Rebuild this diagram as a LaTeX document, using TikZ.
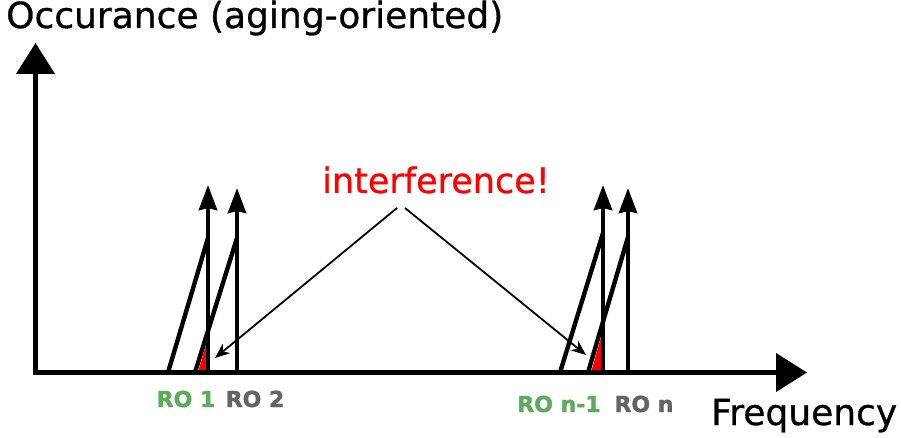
\documentclass[tikz,border=0pt]{standalone}
\usepackage{fontspec}
\setmainfont{DejaVu Sans}[FakeBold=0.8, BoldFeatures={FakeBold=1.6}]
\usetikzlibrary{arrows.meta}

\definecolor{rogreen}{RGB}{92,172,92}
\definecolor{rogray}{RGB}{100,100,100}

\begin{document}
\begin{tikzpicture}[x=1pt, y=-1pt]
    \tikzstyle{axis} = [line width=4.2pt, -{Triangle[width=38pt,length=31pt]}]
    \tikzstyle{peak} = [line width=4.4pt, -{Stealth[width=18pt,length=25pt,inset=2pt]}]
    \tikzstyle{slope} = [line width=4.4pt]
    \tikzstyle{pointer} = [line width=1.8pt, -{Stealth[width=12pt,length=15pt]}]
    \tikzstyle{big} = [font=\fontsize{36}{40}\selectfont, inner sep=0pt]
    \tikzstyle{rolabel} = [font=\fontsize{22}{26}\selectfont\bfseries, inner sep=0pt, anchor=base]

    \useasboundingbox (0,0) rectangle (901,438);

    \coordinate (origin) at (35.5,372.5);
    \coordinate (ytip)   at (35.5,43);
    \coordinate (xtip)   at (807,372.5);

    % first pair of oscillators
    \coordinate (roAb) at (208,372.5);  \coordinate (roAt) at (208,185);
    \coordinate (roBb) at (237,372.5);  \coordinate (roBt) at (237,188);
    \coordinate (sAb)  at (168,372.5);  \coordinate (sAt)  at (208,238);
    \coordinate (sBb)  at (195,372.5);  \coordinate (sBt)  at (237,238);
    \coordinate (redA) at (208,337);

    % last pair of oscillators
    \coordinate (roCb) at (603,372.5);  \coordinate (roCt) at (603,185);
    \coordinate (roDb) at (628,372.5);  \coordinate (roDt) at (628,188);
    \coordinate (sCb)  at (560,372.5);  \coordinate (sCt)  at (603,233);
    \coordinate (sDb)  at (588,372.5);  \coordinate (sDt)  at (628,237);
    \coordinate (redC) at (603,330);

    \draw [slope] (sAb) -- (sAt);
    \draw [slope] (sBb) -- (sBt);
    \draw [slope] (sCb) -- (sCt);
    \draw [slope] (sDb) -- (sDt);

    % overlap between neighbouring peaks
    \fill [red] ([xshift=3pt]sBb) -- (roAb) -- (redA) -- cycle;
    \fill [red] ([xshift=3pt]sDb) -- (roCb) -- (redC) -- cycle;

    \draw [peak] (roAb) -- (roAt);
    \draw [peak] (roBb) -- (roBt);
    \draw [peak] (roCb) -- (roCt);
    \draw [peak] (roDb) -- (roDt);

    \draw [axis] ([yshift=2.1pt]origin) -- (ytip);
    \draw [axis] ([xshift=-2.1pt]origin) -- (xtip);

    \node (ylab) [big, anchor=base west] at (6,28) {Occurance (aging-oriented)};
    \node (xlab) [big, anchor=base west] at (711,425) {Frequency};
    \node (intf) [big, anchor=base, text=red, font=\fontsize{35}{40}\selectfont] at (436,193) {interference!};

    \node (ro1)  [rolabel, text=rogreen] at (186,407) {RO 1};
    \node (ro2)  [rolabel, text=rogray]  at (255,407) {RO 2};
    \node (ron1) [rolabel, text=rogreen] at (559,412) {RO n-1};
    \node (ron)  [rolabel, text=rogray]  at (644,412) {RO n};

    \coordinate (fromL) at (397,208);
    \coordinate (fromR) at (405,208);
    \coordinate (hitL)  at (215,358);
    \coordinate (hitR)  at (586,355);
    \draw [pointer] (fromL) -- (hitL);
    \draw [pointer] (fromR) -- (hitR);
\end{tikzpicture}
\end{document}
